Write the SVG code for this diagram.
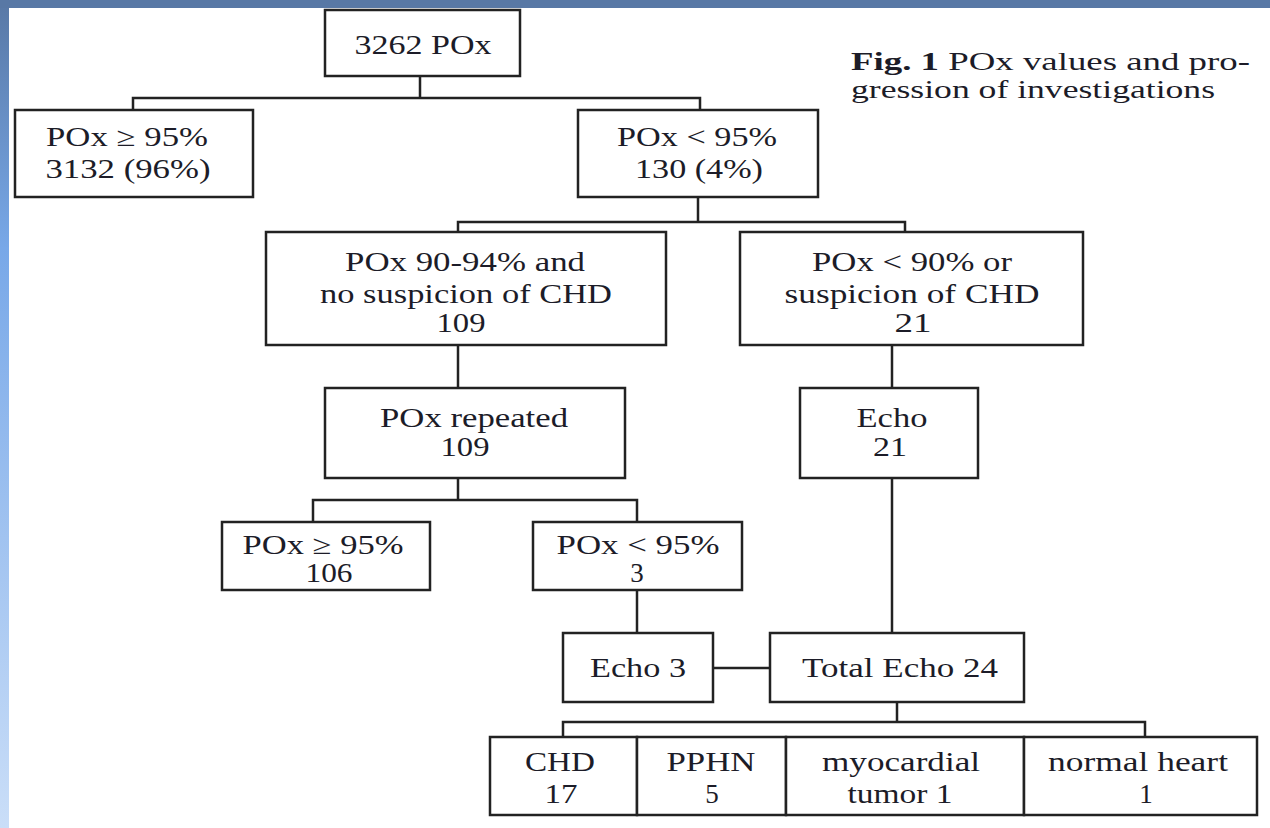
<svg xmlns="http://www.w3.org/2000/svg" width="1270" height="828" viewBox="0 0 1270 828">
<defs>
<linearGradient id="lg" x1="0" y1="0" x2="0" y2="1">
<stop offset="0" stop-color="#5878a5"/>
<stop offset="0.3" stop-color="#78a8e8"/>
<stop offset="1" stop-color="#cadef8"/>
</linearGradient>
<style>
.b{fill:#fff;stroke:#222;stroke-width:2.5}
.c{fill:none;stroke:#222;stroke-width:2.5}
text{font-family:"Liberation Serif","Times New Roman",serif;font-size:27px;fill:#1c1c28;text-anchor:middle}
.cap{font-size:25px;text-anchor:start}
</style>
</defs>
<rect width="1270" height="828" fill="#fff"/>
<rect x="0" y="0" width="9" height="828" fill="url(#lg)"/>
<rect x="0" y="0" width="1270" height="8" fill="#5878a5"/>

<g id="connectors">
<path class="c" d="M420 76V98M133 110V98H700V110"/>
<path class="c" d="M698 197V222M458 232V222H905V232"/>
<path class="c" d="M458 345V388"/>
<path class="c" d="M892 345V388"/>
<path class="c" d="M458 478V500M313 522V500H637V522"/>
<path class="c" d="M637 590V633"/>
<path class="c" d="M892 478V633"/>
<path class="c" d="M713 668H770"/>
<path class="c" d="M897 702V722M563 737V722H1145V737"/>
</g>

<g id="n_root"><rect class="b" x="325" y="10" width="195" height="66"/>
<text x="423" y="54" textLength="137" lengthAdjust="spacingAndGlyphs">3262 POx</text></g>

<g id="n_ge95"><rect class="b" x="15" y="110" width="238" height="87"/>
<text x="127" y="146" textLength="162" lengthAdjust="spacingAndGlyphs">POx ≥ 95%</text>
<text x="128" y="178" textLength="165" lengthAdjust="spacingAndGlyphs">3132 (96%)</text></g>

<g id="n_lt95"><rect class="b" x="578" y="110" width="240" height="87"/>
<text x="697" y="146" textLength="160" lengthAdjust="spacingAndGlyphs">POx &lt; 95%</text>
<text x="699" y="178" textLength="128" lengthAdjust="spacingAndGlyphs">130 (4%)</text></g>

<g id="n_9094"><rect class="b" x="266" y="232" width="400" height="113"/>
<text x="465" y="271" textLength="240" lengthAdjust="spacingAndGlyphs">POx 90-94% and</text>
<text x="466" y="303" textLength="292" lengthAdjust="spacingAndGlyphs">no suspicion of CHD</text>
<text x="461" y="332" textLength="49" lengthAdjust="spacingAndGlyphs">109</text></g>

<g id="n_lt90"><rect class="b" x="740" y="232" width="343" height="113"/>
<text x="912" y="271" textLength="200" lengthAdjust="spacingAndGlyphs">POx &lt; 90% or</text>
<text x="912" y="303" textLength="255" lengthAdjust="spacingAndGlyphs">suspicion of CHD</text>
<text x="913" y="332" textLength="37" lengthAdjust="spacingAndGlyphs">21</text></g>

<g id="n_rep"><rect class="b" x="325" y="388" width="300" height="90"/>
<text x="474" y="427" textLength="188" lengthAdjust="spacingAndGlyphs">POx repeated</text>
<text x="465" y="456" textLength="49" lengthAdjust="spacingAndGlyphs">109</text></g>

<g id="n_echo21"><rect class="b" x="800" y="388" width="178" height="90"/>
<text x="892" y="427" textLength="71" lengthAdjust="spacingAndGlyphs">Echo</text>
<text x="890" y="456" textLength="34" lengthAdjust="spacingAndGlyphs">21</text></g>

<g id="n_ge95b"><rect class="b" x="222" y="522" width="208" height="68"/>
<text x="323" y="554" textLength="161" lengthAdjust="spacingAndGlyphs">POx ≥ 95%</text>
<text x="329" y="582" textLength="47" lengthAdjust="spacingAndGlyphs">106</text></g>

<g id="n_lt95b"><rect class="b" x="533" y="522" width="209" height="68"/>
<text x="638" y="554" textLength="163" lengthAdjust="spacingAndGlyphs">POx &lt; 95%</text>
<text x="637" y="582">3</text></g>

<g id="n_echo3"><rect class="b" x="563" y="633" width="150" height="69"/>
<text x="638" y="677" textLength="96" lengthAdjust="spacingAndGlyphs">Echo 3</text></g>

<g id="n_total"><rect class="b" x="770" y="633" width="254" height="69"/>
<text x="900" y="677" textLength="196" lengthAdjust="spacingAndGlyphs">Total Echo 24</text></g>

<g id="n_chd"><rect class="b" x="490" y="737" width="147" height="78"/>
<text x="560" y="771" textLength="70" lengthAdjust="spacingAndGlyphs">CHD</text>
<text x="561" y="803" textLength="33" lengthAdjust="spacingAndGlyphs">17</text></g>

<g id="n_pphn"><rect class="b" x="637" y="737" width="149" height="78"/>
<text x="711" y="771" textLength="89" lengthAdjust="spacingAndGlyphs">PPHN</text>
<text x="712" y="803">5</text></g>

<g id="n_myo"><rect class="b" x="786" y="737" width="238" height="78"/>
<text x="901" y="771" textLength="158" lengthAdjust="spacingAndGlyphs">myocardial</text>
<text x="900" y="803" textLength="105" lengthAdjust="spacingAndGlyphs">tumor 1</text></g>

<g id="n_normal"><rect class="b" x="1024" y="737" width="233" height="78"/>
<text x="1138" y="771" textLength="180" lengthAdjust="spacingAndGlyphs">normal heart</text>
<text x="1146" y="803">1</text></g>

<g id="caption">
<text class="cap" x="851" y="70" textLength="399" lengthAdjust="spacingAndGlyphs"><tspan font-weight="bold">Fig. 1</tspan>  POx values and pro-</text>
<text class="cap" x="851" y="98" textLength="364" lengthAdjust="spacingAndGlyphs">gression of investigations</text>
</g>
</svg>
